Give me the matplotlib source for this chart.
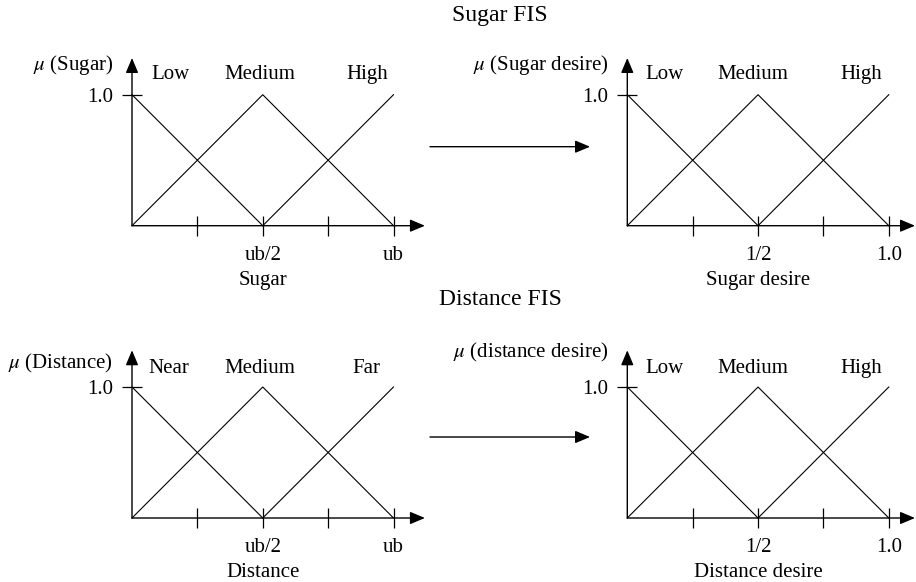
import matplotlib
matplotlib.use("Agg")
import matplotlib.pyplot as plt

plt.rcParams['font.family'] = ['Liberation Serif', 'DejaVu Serif']
plt.rcParams['mathtext.fontset'] = 'stix'

# ---- data ----
low_x = [0.0, 0.5]
low_y = [1.0, 0.0]
med_x = [0.0, 0.5, 1.0]
med_y = [0.0, 1.0, 0.0]
high_x = [0.5, 1.0]
high_y = [0.0, 1.0]

tick_vals = [0.25, 0.5, 0.75, 1.0]
ub_labels = ['', 'ub/2', '', 'ub']
desire_labels = ['', '1/2', '', '1.0']
ytick_vals = [1.0]
ytick_labels = ['1.0']

panel_titles = ['Sugar FIS', 'Distance FIS']
sugar_sets = ['Low', 'Medium', 'High']
sugar_desire_sets = ['Low', 'Medium', 'High']
distance_sets = ['Near', 'Medium', 'Far']
distance_desire_sets = ['Low', 'Medium', 'High']

W, H = 916, 582
fig = plt.figure(figsize=(W / 100, H / 100), dpi=100)

UX, UY = 261.5, 131.0
FS = 15


def make_panel(ox, oy, xmax, ymax, xlabels, xname, yname, yname_y,
               set_names, set_pos, set_y):
    ax = fig.add_axes([ox / W, (H - oy) / H, xmax * UX / W, ymax * UY / H])
    ax.set_xlim(0, xmax)
    ax.set_ylim(0, ymax)
    for s in ax.spines.values():
        s.set_visible(False)
    ax.patch.set_alpha(0)
    # membership functions
    for xs, ys in [(low_x, low_y), (med_x, med_y), (high_x, high_y)]:
        ax.plot(xs, ys, color='black', lw=0.8, clip_on=False)
    # axes with arrows
    ap = dict(arrowstyle='-|>,head_length=0.9,head_width=0.38', color='black',
              lw=1.0, shrinkA=0, shrinkB=0, mutation_scale=10)
    ax.annotate('', xy=(xmax, 0), xytext=(0, 0), arrowprops=ap,
                annotation_clip=False)
    ax.annotate('', xy=(0, ymax), xytext=(0, 0), arrowprops=ap,
                annotation_clip=False)
    # ticks
    ax.set_xticks(tick_vals)
    ax.set_xticklabels(xlabels)
    ax.set_yticks(ytick_vals)
    ax.set_yticklabels(ytick_labels)
    ax.tick_params(axis='x', direction='inout', length=14, width=0.9,
                   pad=7.5, labelsize=FS)
    ax.tick_params(axis='y', direction='inout', length=14, width=0.9,
                   pad=6.5, labelsize=FS)
    # axis names
    ax.annotate(xname, xy=(0.5, 0), xytext=(0, -39.5), textcoords='offset points',
                ha='center', va='center', fontsize=FS, annotation_clip=False)
    ax.annotate(yname, xy=(0, yname_y), xytext=(-13.5, 0),
                textcoords='offset points', ha='right', va='center',
                fontsize=FS, annotation_clip=False)
    for name, px in zip(set_names, set_pos):
        ax.text(px, set_y, name, ha='center', va='center', fontsize=FS)
    return ax


make_panel(132, 225.7, 1.12, 1.28, ub_labels, 'Sugar', r'$\mu$ (Sugar)', 1.23,
           sugar_sets, [0.146, 0.487, 0.90], 1.153)
make_panel(627.3, 225.7, 1.10, 1.28, desire_labels, 'Sugar desire',
           r'$\mu$ (Sugar desire)', 1.23,
           sugar_desire_sets, [0.144, 0.479, 0.895], 1.153)
make_panel(132, 518, 1.12, 1.28, ub_labels, 'Distance', r'$\mu$ (Distance)', 1.18,
           distance_sets, [0.142, 0.487, 0.896], 1.145)
make_panel(627.3, 518, 1.10, 1.28, desire_labels, 'Distance desire',
           r'$\mu$ (distance desire)', 1.26,
           distance_desire_sets, [0.144, 0.479, 0.895], 1.145)

# titles
fig.text(500 / W, 1 - 15 / H, panel_titles[0], ha='center', va='center', fontsize=17)
fig.text(500 / W, 1 - 300 / H, panel_titles[1], ha='center', va='center', fontsize=17)

# connecting arrows
apm = dict(arrowstyle='-|>,head_length=0.9,head_width=0.38', color='black',
           lw=1.0, shrinkA=0, shrinkB=0, mutation_scale=10)
for yy in [146.7, 437]:
    plt.annotate('', xy=(590 / W, 1 - yy / H), xytext=(430 / W, 1 - yy / H),
                 xycoords='figure fraction', textcoords='figure fraction',
                 arrowprops=apm, annotation_clip=False)

fig.savefig('out.png', dpi=100)
